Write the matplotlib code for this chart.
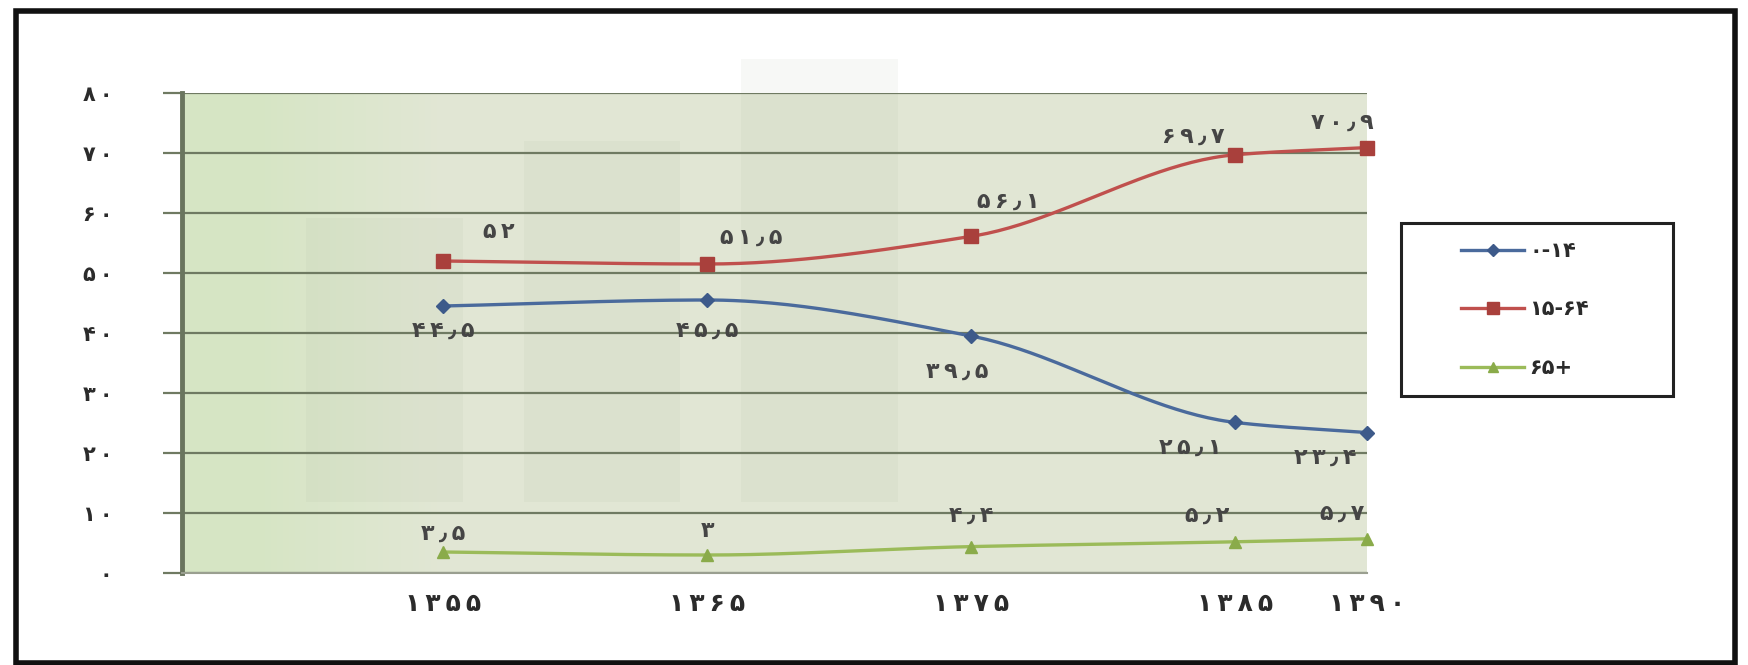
import matplotlib
matplotlib.use("Agg")
import matplotlib.pyplot as plt
import numpy as np
from matplotlib.patches import Rectangle
from matplotlib.lines import Line2D

# data (census years, share of population by age group, %)
years = [1355, 1365, 1375, 1385, 1390]
age_0_14 = [44.5, 45.5, 39.5, 25.1, 23.4]
age_15_64 = [52, 51.5, 56.1, 69.7, 70.9]
age_65 = [3.5, 3, 4.4, 5.2, 5.7]
series_names = ["۰-۱۴", "۱۵-۶۴", "۶۵+"]
y_ticks = [0, 10, 20, 30, 40, 50, 60, 70, 80]

# label offsets in points (style only)
off_0_14 = [(0, -18), (0, -22), (-10, -26), (-32, -18), (-30, -18)]
off_15_64 = [(40, 21), (32, 19), (27, 25), (-30, 13), (-18, 18)]
off_65 = [(0, 13), (0, 17), (0, 22), (-20, 19), (-18, 18)]

FA = str.maketrans("0123456789.", "۰۱۲۳۴۵۶۷۸۹٫")


def fa(v, gap="\u2009"):
    # the original font is loosely spaced
    return gap.join(f"{v:g}".translate(FA))


def smooth(ax, xs, ys, n=50):
    # monotone cubic (fritsch-carlson) in screen space
    pts = ax.transData.transform(np.column_stack([xs, ys]))
    X, Y = pts[:, 0], pts[:, 1]
    h = np.diff(X)
    d = np.diff(Y) / h
    m = np.zeros(len(X))
    m[0], m[-1] = d[0], d[-1]
    for i in range(1, len(X) - 1):
        if d[i - 1] * d[i] <= 0:
            m[i] = 0
        else:
            w1 = 2 * h[i] + h[i - 1]
            w2 = h[i] + 2 * h[i - 1]
            m[i] = (w1 + w2) / (w1 / d[i - 1] + w2 / d[i])
    out = []
    t = np.linspace(0, 1, n)
    for i in range(len(X) - 1):
        h00 = 2 * t ** 3 - 3 * t ** 2 + 1
        h10 = t ** 3 - 2 * t ** 2 + t
        h01 = -2 * t ** 3 + 3 * t ** 2
        h11 = t ** 3 - t ** 2
        yy = h00 * Y[i] + h10 * h[i] * m[i] + h01 * Y[i + 1] + h11 * h[i] * m[i + 1]
        xx = X[i] + t * h[i]
        out.append(np.column_stack([xx, yy]))
    return ax.transData.inverted().transform(np.vstack(out))


plt.rcParams['font.family'] = ['DejaVu Sans']

W, H = 1748, 665
fig = plt.figure(figsize=(W / 100, H / 100), dpi=100)
fig.patch.set_facecolor("white")

L, R, T, B = 182, 1367, 93, 573
ax = fig.add_axes([L / W, 1 - B / H, (R - L) / W, (B - T) / H])
ax.set_xlim(1345.1, 1390)
ax.set_ylim(0, 80)

# background: light green with a greener left strip and faint watermark bands
ax.set_facecolor("#e3e8d4")
grad = np.linspace(0, 1, 200)
grad = np.clip((grad - 0.06) / 0.16, 0, 1)
c0 = np.array([0.84, 0.90, 0.77])
c1 = np.array([0.885, 0.905, 0.835])
img = c0[None, :] * (1 - grad[:, None]) + c1[None, :] * grad[:, None]
ax.imshow(img[None, :, :], extent=[0, 1, 0, 1], transform=ax.transAxes,
          aspect="auto", zorder=0)
for x0, x1, top in [(0.105, 0.237, 0.74), (0.289, 0.420, 0.90), (0.472, 0.604, 1.07)]:
    ax.add_patch(Rectangle((x0, 0.148), x1 - x0, top - 0.148, transform=ax.transAxes,
                           facecolor="#9aa08c", alpha=0.07, edgecolor="none",
                           zorder=0.5, clip_on=False))

ax.set_yticks(y_ticks)
ax.set_yticklabels([fa(v) for v in y_ticks])
ax.set_xticks(years)
ax.set_xticklabels([fa(v) for v in years])
ax.grid(axis="y", color="#6f7a62", linewidth=1.6, zorder=1)
ax.set_axisbelow(True)
ax.tick_params(axis="y", length=14, width=1.6, color="#6f7a62", pad=36,
               labelsize=15, labelcolor="#2b2b2b")
ax.tick_params(axis="x", length=0, pad=14, labelsize=18, labelcolor="#2b2b2b")
for lab in ax.get_xticklabels() + ax.get_yticklabels():
    lab.set_fontweight("bold")
for s in ["top", "right"]:
    ax.spines[s].set_visible(False)
ax.spines["left"].set_color("#6a755e")
ax.spines["left"].set_linewidth(3.5)
ax.spines["bottom"].set_color("#9a9f90")
ax.spines["bottom"].set_linewidth(1.5)

series = [
    (age_0_14, "#4a6a9c", "#3d5a8a", "D", 7, off_0_14),
    (age_15_64, "#c0504d", "#a9403c", "s", 10, off_15_64),
    (age_65, "#9bbb59", "#8aab4a", "^", 8, off_65),
]
handles = []
for (vals, col, mcol, mk, ms, offs), name in zip(series, series_names):
    curve = smooth(ax, years, vals)
    ax.plot(curve[:, 0], curve[:, 1], color=col, linewidth=2.4, zorder=3,
            clip_on=False, solid_capstyle="round")
    ax.plot(years, vals, linestyle="none", marker=mk, markersize=ms,
            color=mcol, zorder=4, clip_on=False)
    for x, y, (dx, dy) in zip(years, vals, offs):
        ax.annotate(fa(y), (x, y), xytext=(dx, dy), textcoords="offset points",
                    ha="center", va="center", fontsize=16, fontweight="bold",
                    color="#454545", zorder=5)
    handles.append(Line2D([], [], color=col, linewidth=2.4, marker=mk,
                          markersize=ms - 1, markerfacecolor=mcol,
                          markeredgecolor=mcol))

# legend box
lx0, lx1, ly0, ly1 = 1401, 1673, 223, 396
fig.patches.append(Rectangle((lx0 / W, 1 - ly1 / H), (lx1 - lx0) / W, (ly1 - ly0) / H,
                             transform=fig.transFigure, facecolor="white",
                             edgecolor="#222222", linewidth=2.2, zorder=2))
leg = fig.legend(handles, series_names, loc="center left",
                 bbox_to_anchor=((lx0 + 50) / W, 1 - (ly0 + ly1) / 2 / H),
                 frameon=False, fontsize=15, handlelength=3.0, handletextpad=0.25,
                 labelspacing=1.85, borderpad=0)
for t in leg.get_texts():
    t.set_fontweight("bold")
    t.set_color("#2b2b2b")
leg.set_zorder(3)

# outer frame
fig.patches.append(Rectangle((16 / W, 2 / H), (1735 - 16) / W, (654 - 2) / H,
                             transform=fig.transFigure, facecolor="none",
                             edgecolor="#111111", linewidth=4, zorder=10))

fig.savefig("out.png", dpi=100, facecolor="white")
